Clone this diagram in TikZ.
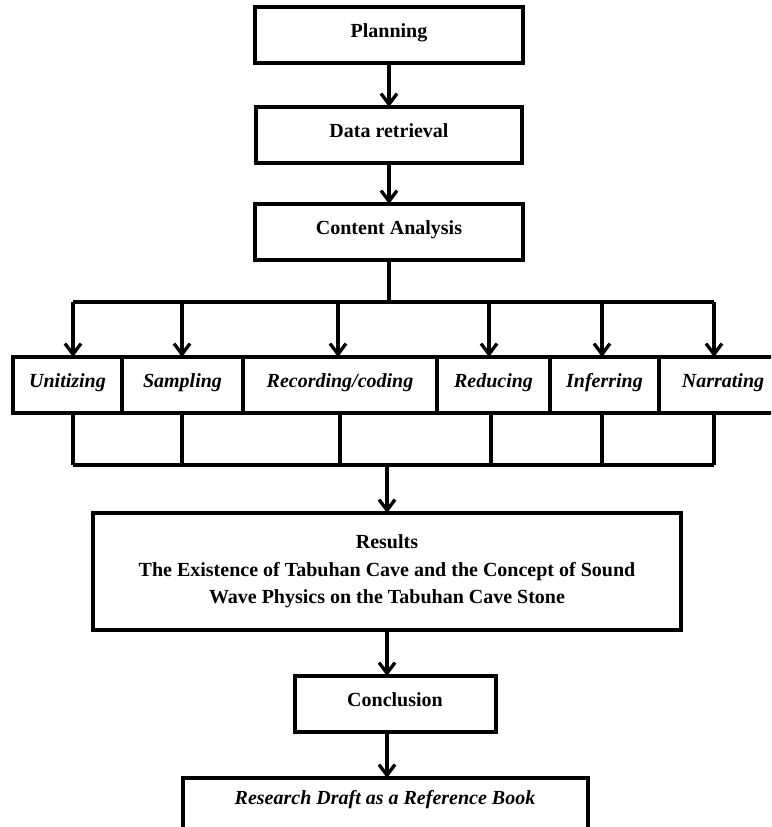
\documentclass[tikz,border=0pt]{standalone}
\usepackage{fontspec}
\setmainfont{Liberation Serif}
\usetikzlibrary{positioning,arrows.meta}

\begin{document}
\begin{tikzpicture}[x=0.75pt, y=-0.75pt,
    stepbox/.style={draw, line width=3pt, outer sep=0pt, inner ysep=0pt,
        text height=23pt, text depth=19pt,
        font=\fontsize{15}{20.5}\selectfont\bfseries},
    link/.style={line width=2.5pt},
    arr/.style={link, -{Straight Barb[length=8pt,width=12pt]}}]

        \def\d{33pt}

        % the page itself, cut at the lower and right edge
        \clip (0,0) rectangle (771,827);

        % Scope used for the upper column
        \begin{scope}
            \node[stepbox, minimum width=201pt] (plan) at (389, 35)
            {Planning};
            \node[stepbox, minimum width=200pt] (data) [below=\d of plan]
            {Data retrieval};
            \node[stepbox, minimum width=201pt] (content) [below=30.75pt of data]
            {Content Analysis};
        \end{scope}

        % Scope used for the row of steps
        \begin{scope}
            \node[stepbox, minimum width=81.75pt] (unit) at (67.5, 385)
            {\textit{Unitizing}};
            \node[stepbox, minimum width=90.75pt] (samp) [right=0pt of unit]
            {\textit{Sampling}};
            \node[stepbox, minimum width=145.5pt] (rec) [right=0pt of samp]
            {\textit{Recording/coding}};
            \node[stepbox, minimum width=84.75pt] (red) [right=0pt of rec]
            {\textit{Reducing}};
            \node[stepbox, minimum width=81.75pt] (inf) [right=0pt of red]
            {\textit{Inferring}};
            \node[stepbox, minimum width=96pt] (narr) [right=0pt of inf]
            {\textit{Narrating}};
        \end{scope}

        % Scope used for the lower column
        \begin{scope}
            \node[stepbox, minimum width=441pt, minimum height=87.75pt,
                text height=, text depth=, align=center] (res) at (387, 571.5)
            {Results\\The Existence of Tabuhan Cave and the Concept of Sound\\
             Wave Physics on the Tabuhan Cave Stone};
            \node[stepbox, minimum width=150.75pt] (concl)
                [below=34.5pt of res, xshift=6pt]
            {Conclusion};
            \node[stepbox, minimum width=303.75pt, text height=20pt,
                text depth=45pt] (draft) [below=34.5pt of concl, xshift=-7.5pt]
            {\textit{Research Draft as a Reference Book}};
        \end{scope}

        % split and join points
        \coordinate (t1) at (73, 302);
        \coordinate (t2) at (182, 302);
        \coordinate (t3) at (338, 302);
        \coordinate (t4) at (489, 302);
        \coordinate (t5) at (602, 302);
        \coordinate (t6) at (714, 302);
        \coordinate (b1) at (73, 465);
        \coordinate (b2) at (182, 465);
        \coordinate (b3) at (340, 465);
        \coordinate (b4) at (491, 465);
        \coordinate (b5) at (602, 465);
        \coordinate (b6) at (714, 465);

        \begin{scope}
            \draw[arr] (plan) -- (data);
            \draw[arr] (data) -- (content);
            \draw[link] (content) -- (content.south |- t1);
            \draw[link] (t1) -- (t6);
            \draw[arr] (t1) -- (t1 |- unit.north);
            \draw[arr] (t2) -- (t2 |- samp.north);
            \draw[arr] (t3) -- (t3 |- rec.north);
            \draw[arr] (t4) -- (t4 |- red.north);
            \draw[arr] (t5) -- (t5 |- inf.north);
            \draw[arr] (t6) -- (t6 |- narr.north);
            \draw[link] (b1 |- unit.south) -- (b1);
            \draw[link] (b2 |- samp.south) -- (b2);
            \draw[link] (b3 |- rec.south) -- (b3);
            \draw[link] (b4 |- red.south) -- (b4);
            \draw[link] (b5 |- inf.south) -- (b5);
            \draw[link] (b6 |- narr.south) -- (b6);
            \draw[link] (b1) -- (b6);
            \draw[arr] (res.north |- b1) -- (res);
            \draw[arr] (res) -- (res.south |- concl.north);
            \draw[arr] (res.south |- concl.south) -- (res.south |- draft.north);
        \end{scope}

\end{tikzpicture}
\end{document}
